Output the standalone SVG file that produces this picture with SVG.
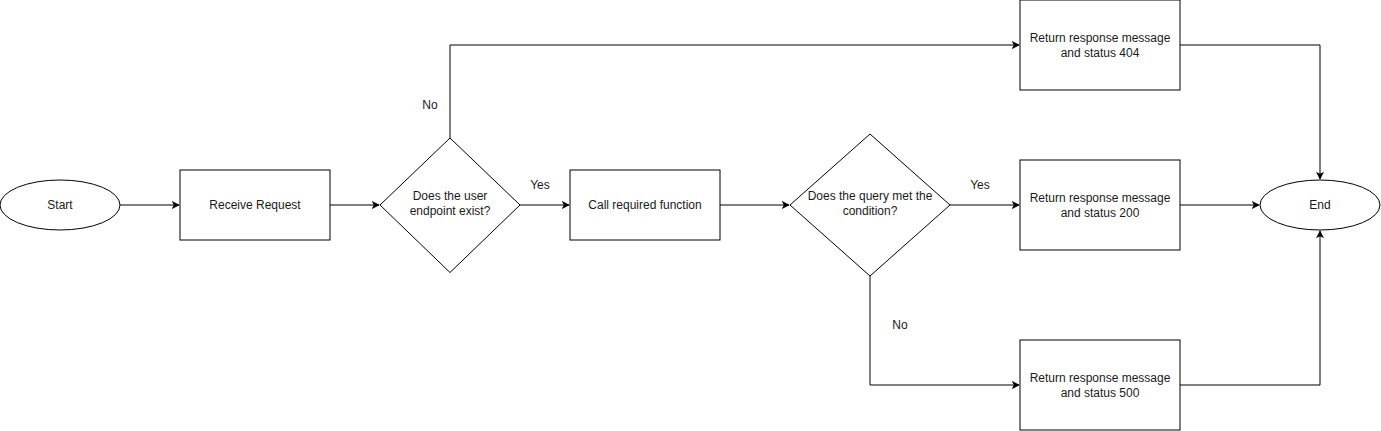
<svg xmlns="http://www.w3.org/2000/svg" width="1381" height="431" viewBox="0 0 1381 431">
<style>
.s{fill:#fff;stroke:#000;stroke-width:1}
.c{fill:none;stroke:#000;stroke-width:1}
text{font-family:"Liberation Sans",Arial,sans-serif;font-size:12px;fill:#1a1a1a}
.m{text-anchor:middle}
</style>
<defs>
<marker id="a" viewBox="0 0 10 10" refX="9" refY="5" markerWidth="8" markerHeight="8" markerUnits="userSpaceOnUse" orient="auto">
<path d="M0,0 L10,5 L0,10 L2.5,5 z" fill="#000"/>
</marker>
</defs>
<rect width="1381" height="431" fill="#fff"/>
<g id="connectors">
<path class="c" d="M120,205 H179" marker-end="url(#a)"/>
<path class="c" d="M330,205 H379" marker-end="url(#a)"/>
<path class="c" d="M520,205 H569" marker-end="url(#a)"/>
<path class="c" d="M450,138 V45 H1019" marker-end="url(#a)"/>
<path class="c" d="M720,205 H789" marker-end="url(#a)"/>
<path class="c" d="M950,205 H1019" marker-end="url(#a)"/>
<path class="c" d="M870,276 V385 H1019" marker-end="url(#a)"/>
<path class="c" d="M1180,45 H1320 V179" marker-end="url(#a)"/>
<path class="c" d="M1180,205 H1259" marker-end="url(#a)"/>
<path class="c" d="M1180,385 H1320 V231" marker-end="url(#a)"/>
<text x="430" y="109" class="m">No</text>
<text x="540" y="189" class="m">Yes</text>
<text x="980" y="189" class="m">Yes</text>
<text x="900" y="329" class="m">No</text>
</g>
<g id="start">
<ellipse class="s" cx="60" cy="205" rx="60" ry="25"/>
<text x="60" y="209" class="m">Start</text>
</g>
<g id="receive">
<rect class="s" x="180" y="170" width="150" height="70"/>
<text x="255" y="209" class="m">Receive Request</text>
</g>
<g id="decision1">
<path class="s" d="M450,138 L520,205 L450,272.5 L380,205 Z"/>
<text x="450" y="200" class="m">Does the user</text>
<text x="450" y="215" class="m">endpoint exist?</text>
</g>
<g id="call">
<rect class="s" x="570" y="170" width="150" height="70"/>
<text x="645" y="209" class="m">Call required function</text>
</g>
<g id="decision2">
<path class="s" d="M870,134 L950,205 L870,276 L790,205 Z"/>
<text x="870" y="200" class="m">Does the query met the</text>
<text x="870" y="215" class="m">condition?</text>
</g>
<g id="r404">
<rect class="s" x="1020" y="0" width="160" height="90"/>
<text x="1100" y="42" class="m">Return response message</text>
<text x="1100" y="57" class="m">and status 404</text>
</g>
<g id="r200">
<rect class="s" x="1020" y="160" width="160" height="90"/>
<text x="1100" y="202" class="m">Return response message</text>
<text x="1100" y="217" class="m">and status 200</text>
</g>
<g id="r500">
<rect class="s" x="1020" y="340" width="160" height="90"/>
<text x="1100" y="382" class="m">Return response message</text>
<text x="1100" y="397" class="m">and status 500</text>
</g>
<g id="end">
<ellipse class="s" cx="1320" cy="205" rx="60" ry="25"/>
<text x="1320" y="209" class="m">End</text>
</g>
</svg>
